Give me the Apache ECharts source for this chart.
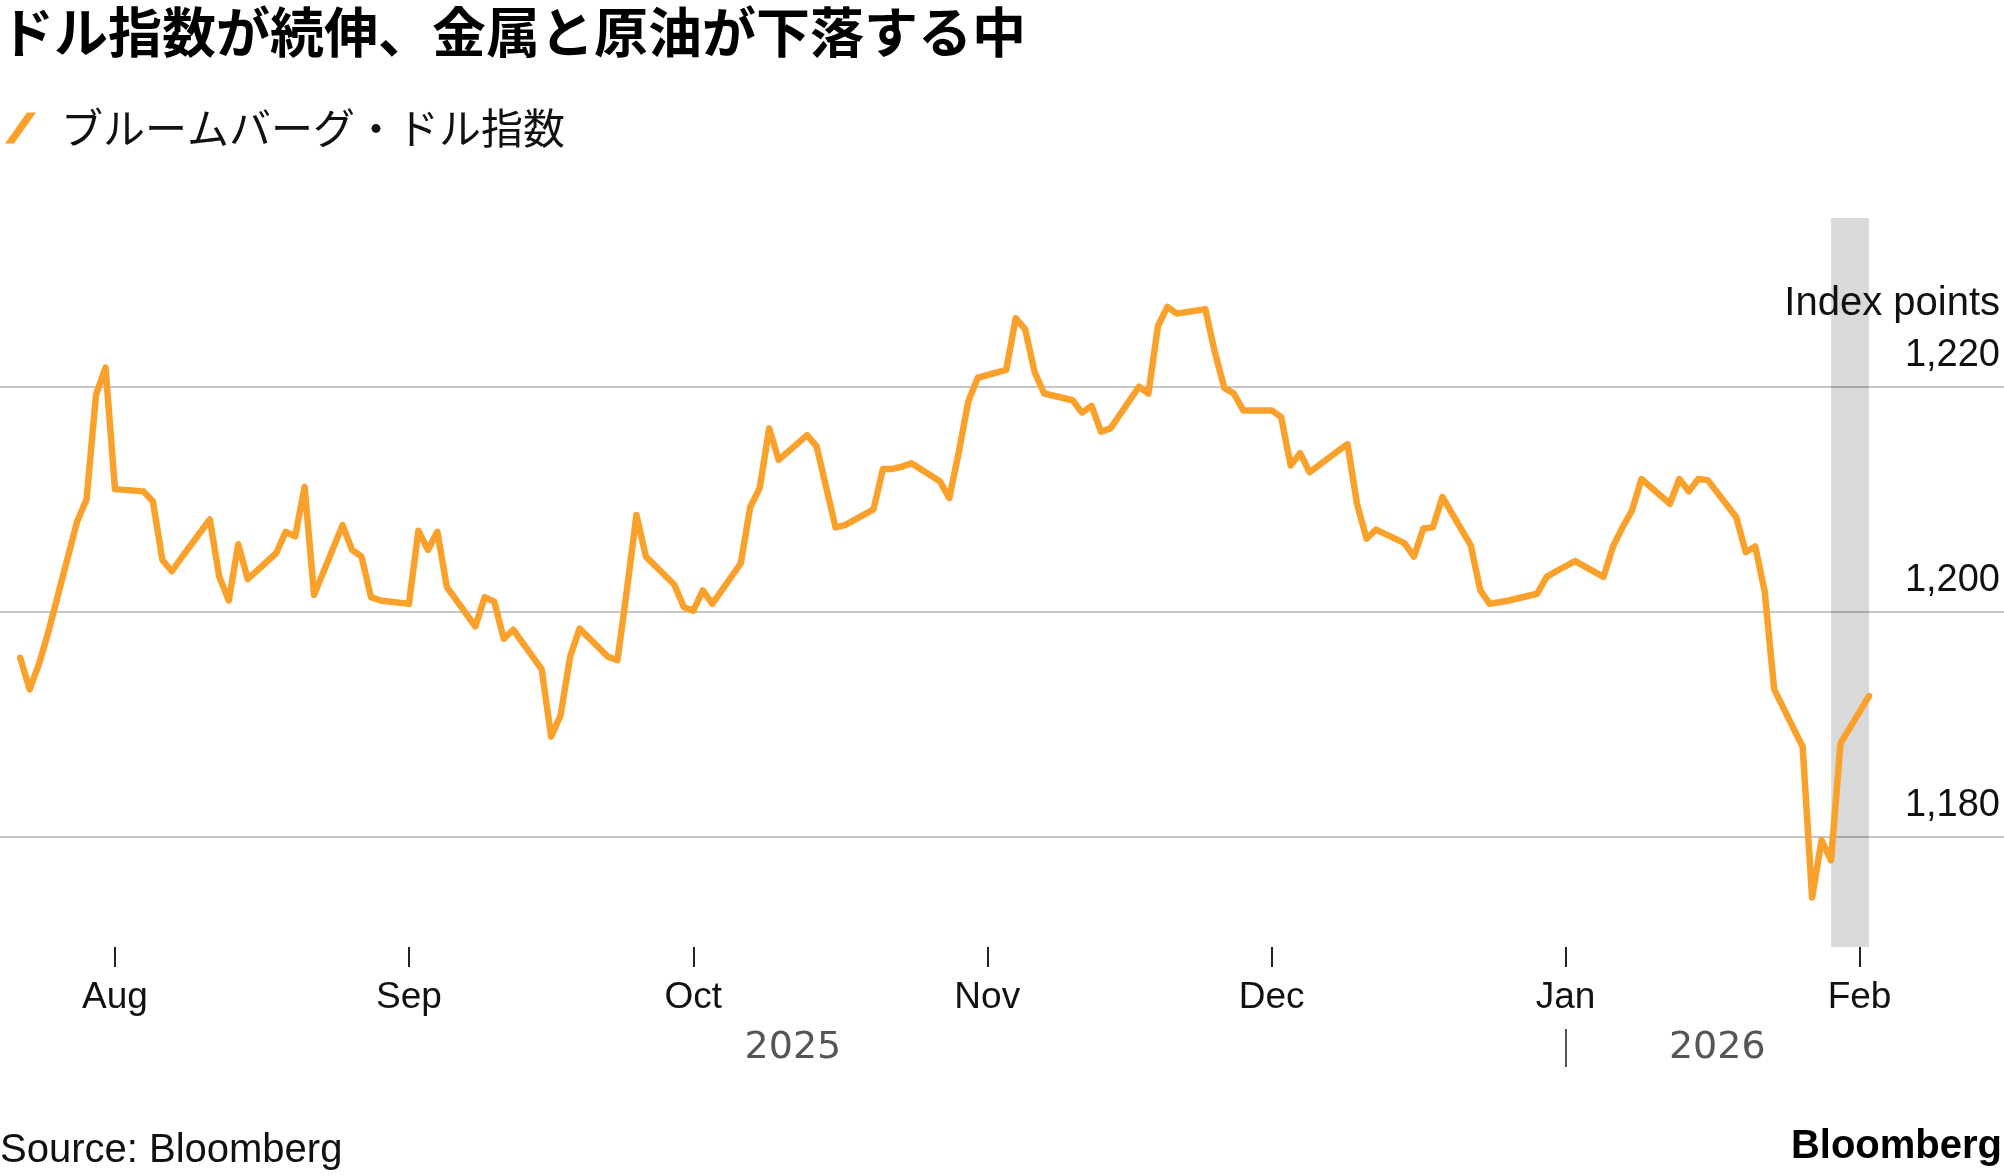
<!DOCTYPE html>
<html><head><meta charset="utf-8">
<script src="https://cdn.jsdelivr.net/npm/echarts@6/dist/echarts.min.js"></script>
<style>html,body{margin:0;padding:0;background:#fff}#c{width:2004px;height:1176px}</style>
</head><body><div id="c"></div>
<script>
const chartTitle = 'ドル指数が続伸、金属と原油が下落する中';
const seriesName = 'ブルームバーグ・ドル指数';
const dates = [
 '2025-07-22','2025-07-23','2025-07-24','2025-07-25','2025-07-28','2025-07-29','2025-07-30','2025-07-31','2025-08-01',
 '2025-08-04','2025-08-05','2025-08-06','2025-08-07','2025-08-08','2025-08-11','2025-08-12','2025-08-13','2025-08-14','2025-08-15',
 '2025-08-18','2025-08-19','2025-08-20','2025-08-21','2025-08-22','2025-08-25','2025-08-26','2025-08-27','2025-08-28','2025-08-29',
 '2025-09-01','2025-09-02','2025-09-03','2025-09-04','2025-09-05','2025-09-08','2025-09-09','2025-09-10','2025-09-11','2025-09-12',
 '2025-09-15','2025-09-16','2025-09-17','2025-09-18','2025-09-19','2025-09-22','2025-09-23','2025-09-24','2025-09-25','2025-09-26',
 '2025-09-29','2025-09-30','2025-10-01','2025-10-02','2025-10-03','2025-10-06','2025-10-07','2025-10-08','2025-10-09','2025-10-10',
 '2025-10-13','2025-10-14','2025-10-15','2025-10-16','2025-10-17','2025-10-20','2025-10-21','2025-10-22','2025-10-23','2025-10-24',
 '2025-10-27','2025-10-28','2025-10-29','2025-10-30','2025-10-31','2025-11-03','2025-11-04','2025-11-05','2025-11-06','2025-11-07',
 '2025-11-10','2025-11-11','2025-11-12','2025-11-13','2025-11-14','2025-11-17','2025-11-18','2025-11-19','2025-11-20','2025-11-21',
 '2025-11-24','2025-11-25','2025-11-26','2025-11-27','2025-11-28','2025-12-01','2025-12-02','2025-12-03','2025-12-04','2025-12-05',
 '2025-12-08','2025-12-09','2025-12-10','2025-12-11','2025-12-12','2025-12-15','2025-12-16','2025-12-17','2025-12-18','2025-12-19',
 '2025-12-22','2025-12-23','2025-12-24','2025-12-26','2025-12-29','2025-12-30','2025-12-31','2026-01-02',
 '2026-01-05','2026-01-06','2026-01-07','2026-01-08','2026-01-09','2026-01-12','2026-01-13','2026-01-14','2026-01-15','2026-01-16',
 '2026-01-19','2026-01-20','2026-01-21','2026-01-22','2026-01-23','2026-01-26','2026-01-27','2026-01-28','2026-01-29','2026-01-30',
 '2026-02-02'
];
const values = [
 1195.9,1193.1,1195.4,1198.3,1208.0,1210.0,1219.3,1221.7,1210.9,
 1210.7,1209.8,1204.6,1203.6,1204.8,1208.2,1203.1,1201.0,1206.0,1202.9,
 1205.2,1207.1,1206.7,1211.1,1201.5,1207.7,1205.5,1204.9,1201.3,1201.0,
 1200.7,1207.2,1205.5,1207.1,1202.2,1198.7,1201.3,1200.9,1197.6,1198.4,
 1194.9,1188.9,1190.8,1196.0,1198.5,1196.0,1195.7,1202.0,1208.6,1204.9,
 1202.4,1200.4,1200.1,1201.9,1200.7,1204.3,1209.3,1211.0,1216.3,1213.5,
 1215.7,1214.7,1211.1,1207.5,1207.7,1209.1,1212.7,1212.7,1212.9,1213.2,
 1211.6,1210.1,1214.2,1218.7,1220.8,1221.5,1226.1,1225.1,1221.3,1219.4,
 1218.8,1217.7,1218.3,1216.0,1216.3,1220.0,1219.4,1225.4,1227.1,1226.5,
 1226.9,1223.1,1219.9,1219.4,1217.9,1217.9,1217.3,1213.0,1214.1,1212.4,
 1214.3,1214.9,1209.6,1206.5,1207.3,1206.1,1204.9,1207.4,1207.5,1210.2,
 1205.9,1201.9,1200.7,1201.0,1201.6,1203.1,1203.6,1204.5,
 1203.1,1205.8,1207.5,1209.0,1211.8,1209.6,1211.8,1210.7,1211.8,1211.7,
 1208.4,1205.3,1205.8,1201.8,1193.1,1188.0,1174.6,1179.7,1177.9,1188.3,
 1192.5
];
const monthTicks = ['2025-08-01','2025-09-01','2025-10-01','2025-11-01','2025-12-01','2026-01-01','2026-02-01'];
const monthNames = ['Jan','Feb','Mar','Apr','May','Jun','Jul','Aug','Sep','Oct','Nov','Dec'];
const yTicks = [1180, 1200, 1220];
const bandRange = ['2026-01-29', '2026-02-02'];
const yearBreak = '2026-01-01';

const ORANGE = '#F9A12B';
function ts(s){ const p = s.split('-').map(Number); return new Date(p[0], p[1]-1, p[2]).getTime(); }
const DAY = 864e5;
const aug1 = ts('2025-08-01');
const xMin = aug1 - 12.13 * DAY;
const xMax = aug1 + 199.24 * DAY;
const monthTs = monthTicks.map(ts);
const janTs = ts(yearBreak);
const firstTs = ts(dates[0]), lastTs = ts(dates[dates.length-1]);
const yearCenters = [(firstTs + janTs) / 2, (janTs + lastTs) / 2];

const chart = echarts.init(document.getElementById('c'), null, {renderer: 'canvas'});
chart.setOption({
  animation: false,
  backgroundColor: '#ffffff',
  title: [
    {text: chartTitle, left: 0, top: 5, padding: 0,
     textStyle: {fontFamily: 'Noto Sans CJK JP', fontWeight: 'bold', fontSize: 54, color: '#000'}},
    {text: 'Source: Bloomberg', left: 0, top: 1131, padding: 0,
     textStyle: {fontFamily: 'Liberation Sans', fontWeight: 'normal', fontSize: 40, color: '#111'}},
    {text: 'Bloomberg', right: 2, top: 1127, padding: 0,
     textStyle: {fontFamily: 'Liberation Sans', fontWeight: 'bold', fontSize: 40, color: '#000'}}
  ],
  legend: {
    left: 5, top: 107, padding: 0, selectedMode: false,
    itemWidth: 31, itemHeight: 31,
    data: [{name: seriesName, icon: 'path://M0,31L22,0L31,0L9,31Z'}],
    textStyle: {fontFamily: 'Noto Sans CJK JP', fontSize: 42, color: '#111', padding: [0,0,0,20]}
  },
  grid: {left: 0, right: 0, top: 218, bottom: 229, containLabel: false, outerBoundsMode: 'none'},
  xAxis: [
    {
      type: 'value', min: xMin, max: xMax, position: 'bottom', scale: true,
      axisLine: {show: false},
      axisTick: {show: true, customValues: monthTs, length: 20, lineStyle: {color: '#222', width: 2}},
      axisLabel: {customValues: monthTs, margin: 32, fontSize: 37, color: '#111', fontFamily: 'Liberation Sans',
        formatter: v => monthNames[new Date(v).getMonth()]},
      splitLine: {show: false}
    },
    {
      type: 'value', min: xMin, max: xMax, position: 'bottom', offset: 82, scale: true,
      axisLine: {show: false},
      axisTick: {show: true, customValues: [janTs], length: 38, lineStyle: {color: '#555', width: 2}},
      axisLabel: {customValues: yearCenters, margin: 19, verticalAlign: 'middle', fontSize: 38, color: '#555',
        fontFamily: 'DejaVu Sans', formatter: v => String(new Date(v).getFullYear())},
      splitLine: {show: false}
    }
  ],
  yAxis: {
    type: 'value', position: 'right', min: 1170.2, max: 1235.0,
    axisLine: {show: false},
    axisTick: {show: false, customValues: yTicks},
    axisLabel: {customValues: yTicks, inside: true, margin: 4, fontSize: 38, color: '#111',
      fontFamily: 'Liberation Sans', verticalAlign: 'bottom', padding: [0,0,12,0],
      formatter: v => Number(v).toLocaleString('en-US')},
    splitLine: {show: true, lineStyle: {color: '#c6c6c6', width: 2}},
    name: 'Index points', nameLocation: 'end', nameGap: -86,
    nameTextStyle: {fontFamily: 'Liberation Sans', fontSize: 40, color: '#111', align: 'right', verticalAlign: 'middle', padding: [0,4,0,0]}
  },
  series: [{
    type: 'line', name: seriesName, xAxisIndex: 0, yAxisIndex: 0,
    data: dates.map((d, i) => [ts(d), values[i]]),
    symbol: 'none', showSymbol: false,
    lineStyle: {color: ORANGE, width: 6.5, cap: 'round', join: 'round'},
    itemStyle: {color: ORANGE},
    markArea: {silent: true, itemStyle: {color: 'rgba(0,0,0,0.15)'},
      data: [[{xAxis: ts(bandRange[0])}, {xAxis: ts(bandRange[1])}]]}
  }]
});
</script></body></html>
